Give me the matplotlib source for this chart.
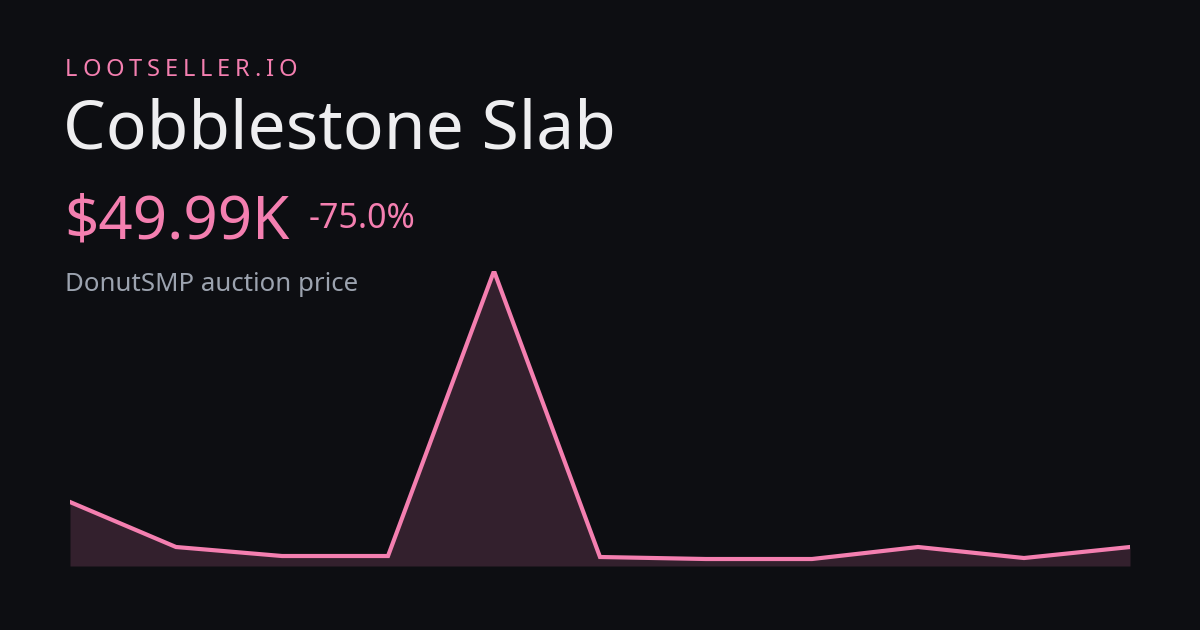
import matplotlib
matplotlib.use("Agg")
import matplotlib.pyplot as plt

values = [200, 50, 20, 20, 970, 16.7, 10, 10, 50, 13.3, 49.99]
brand = "LOOTSELLER.IO"
title = "Cobblestone Slab"
price = "$49.99K"
change = "-75.0%"
subtitle = "DonutSMP auction price"

W, H = 1200, 630
bg = "#0d0e12"
pink = "#f47fb0"
fig = plt.figure(figsize=(12, 6.3), dpi=100, facecolor=bg)
plt.rcParams['font.family'] = ['Noto Sans', 'DejaVu Sans']

ax = fig.add_axes([70 / W, 1 - 566 / H, 1060 / W, 295 / H])
ax.set_facecolor(bg)
x = list(range(len(values)))
ax.fill_between(x, values, -13.3, color="#33202d", lw=0)
ax.plot(x, values, color=pink, lw=3, solid_joinstyle="miter")
ax.set_xlim(0, len(values) - 1)
ax.set_ylim(-13.3, 970)
ax.axis("off")

def t(xp, yp, s, size, color, **kw):
    return fig.text(xp / W, 1 - yp / H, s, fontsize=size, color=color, va="baseline", ha="left", **kw)

# brand with letter tracking
r = fig.canvas.get_renderer()
xp = 65
for ch in brand:
    tx = t(xp, 76, ch, 17, pink)
    w = tx.get_window_extent(r).width
    xp += w + 4.8

t(63, 148, title, 48.8, "#eeeef0")
t(64, 238, price, 43.2, pink)
t(309, 228, change, 24.5, pink)
t(65, 291, subtitle, 18.6, "#9ca3af")

fig.savefig("out.png", dpi=100, facecolor=bg)
